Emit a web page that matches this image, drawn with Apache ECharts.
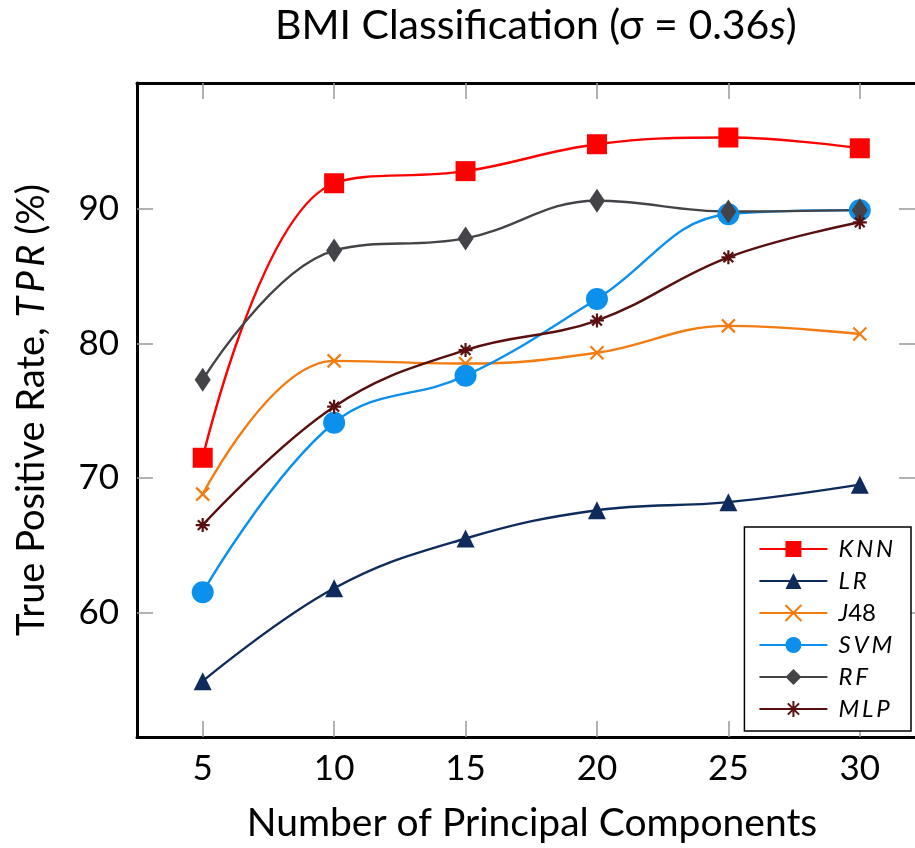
<!DOCTYPE html>
<html>
<head>
<meta charset="utf-8">
<script src="https://cdn.jsdelivr.net/npm/echarts@6/dist/echarts.min.js"></script>
<style>
html, body { margin: 0; padding: 0; background: #fff; }
#chart { width: 915px; height: 848px; }
</style>
</head>
<body>
<div id="chart"></div>
<script>
var components = [5, 10, 15, 20, 25, 30];
var xTicks = [5, 10, 15, 20, 25, 30];
var yTicks = [60, 70, 80, 90];

var knn = [71.5, 91.9, 92.8, 94.8, 95.3, 94.5];
var lr  = [54.9, 61.8, 65.5, 67.6, 68.2, 69.5];
var j48 = [68.8, 78.7, 78.5, 79.3, 81.3, 80.7];
var svm = [61.5, 74.1, 77.6, 83.3, 89.6, 89.9];
var rf  = [77.3, 86.9, 87.8, 90.6, 89.8, 89.9];
var mlp = [66.5, 75.3, 79.5, 81.7, 86.4, 89.0];

var font = 'Lato';

function pairs(ys) {
    var out = [];
    for (var i = 0; i < components.length; i++) {
        out.push([components[i], ys[i]]);
    }
    return out;
}

function make_series(name, ys, color, symbol, size, stroke) {
    var s = {
        name: name,
        type: 'line',
        data: pairs(ys),
        smooth: 0.4,
        symbol: symbol,
        symbolSize: size,
        showAllSymbol: true,
        lineStyle: { color: color, width: 2.4 },
        itemStyle: { color: color },
        z: 3
    };
    if (stroke) {
        s.itemStyle = { color: color, borderColor: color, borderWidth: 2.2 };
    }
    return s;
}

var crossPath = 'path://M0,0L10,10M10,0L0,10';
var starPath = 'path://M5,0L5,10M0,5L10,5M1.5,1.5L8.5,8.5M8.5,1.5L1.5,8.5';

var series = [
    make_series('KNN', knn, '#ff0000', 'rect', 20),
    make_series('LR', lr, '#0f2b5b', 'triangle', 18),
    make_series('J48', j48, '#f27c12', crossPath, 13, true),
    make_series('SVM', svm, '#0b90ee', 'circle', 22),
    make_series('RF', rf, '#444448', 'diamond', [16, 24]),
    make_series('MLP', mlp, '#5a0f0f', starPath, 14, true)
];

var tickStyle = { show: true, inside: true, length: 16, lineStyle: { color: '#999', width: 1.5 } };
var lineStyle = { show: true, onZero: false, lineStyle: { color: '#000', width: 3 } };

// math-italic look: spread the letters a little
function spaced(s) {
    return s.split('').join('\u2009');
}

// the plot box runs past the right edge of the picture (axis ends near 32.1)
var xMin = 2.5, xMax = 32.1;

var option = {
    backgroundColor: '#fff',
    animation: false,
    title: {
        text: 'BMI Classification (σ = 0.36{i|s})',
        left: 270,
        top: 0,
        textStyle: {
            fontFamily: font, fontSize: 41, fontWeight: 'normal', color: '#000',
            rich: { i: { fontFamily: font, fontSize: 41, fontStyle: 'italic', color: '#000' } }
        }
    },
    grid: { left: 137, top: 83, right: 0, bottom: 109 },
    legend: {
        orient: 'vertical',
        right: 4,
        top: 527,
        itemWidth: 68,
        itemHeight: 20,
        itemGap: 8,
        padding: [10, 18, 10, 14],
        borderColor: '#000',
        borderWidth: 1.5,
        backgroundColor: '#fff',
        formatter: function (name) {
            if (name === 'J48') return ' {i|J}{n|48}';
            return ' {i|' + spaced(name) + '}';
        },
        textStyle: {
            fontFamily: font, fontSize: 24, color: '#000',
            rich: {
                i: { fontFamily: font, fontSize: 24, fontStyle: 'italic', color: '#000' },
                n: { fontFamily: font, fontSize: 24, color: '#000' }
            }
        },
        data: ['KNN', 'LR', 'J48', 'SVM', 'RF', 'MLP']
    },
    xAxis: [{
        type: 'value',
        min: xMin,
        max: xMax,
        name: 'Number of Principal Components',
        nameLocation: 'middle',
        nameGap: 67,
        nameTextStyle: { fontFamily: font, fontSize: 39, color: '#000', padding: [0, 0, 0, 12] },
        axisLine: lineStyle,
        axisTick: Object.assign({ customValues: xTicks }, tickStyle),
        axisLabel: { customValues: xTicks, fontFamily: font, fontSize: 35, color: '#000', margin: 14 },
        splitLine: { show: false }
    }, {
        type: 'value',
        position: 'top',
        min: xMin,
        max: xMax,
        axisLine: lineStyle,
        axisTick: Object.assign({ customValues: xTicks }, tickStyle),
        axisLabel: { show: false },
        splitLine: { show: false }
    }],
    yAxis: [{
        type: 'value',
        min: 50.75,
        max: 99.35,
        name: 'True Positive Rate, {i|' + spaced('TPR') + '} (%)',
        nameLocation: 'middle',
        nameGap: 86,
        nameTextStyle: {
            fontFamily: font, fontSize: 38, color: '#000',
            rich: { i: { fontFamily: font, fontSize: 38, fontStyle: 'italic', color: '#000' } }
        },
        axisLine: lineStyle,
        axisTick: Object.assign({ customValues: yTicks }, tickStyle),
        axisLabel: { customValues: yTicks, fontFamily: font, fontSize: 35, color: '#000', margin: 18 },
        splitLine: { show: false }
    }, {
        type: 'value',
        position: 'right',
        min: 50.75,
        max: 99.35,
        axisLine: { show: false },
        axisTick: Object.assign({ customValues: yTicks }, tickStyle),
        axisLabel: { show: false },
        splitLine: { show: false }
    }],
    series: series
};

var myChart = echarts.init(document.getElementById('chart'), null, { renderer: 'canvas' });
myChart.setOption(option);
</script>
</body>
</html>
